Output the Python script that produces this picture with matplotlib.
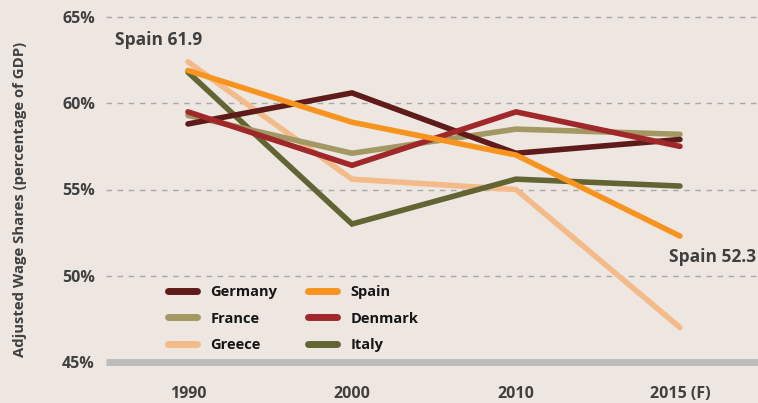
import matplotlib
matplotlib.use("Agg")
import matplotlib.pyplot as plt
from matplotlib.lines import Line2D

years = ["1990", "2000", "2010", "2015 (F)"]
germany = [58.8, 60.6, 57.1, 57.9]
spain = [61.9, 58.9, 57.0, 52.3]
france = [59.3, 57.1, 58.5, 58.2]
denmark = [59.5, 56.4, 59.5, 57.5]
greece = [62.4, 55.6, 55.0, 47.0]
italy = [61.8, 53.0, 55.6, 55.2]
yticks = [45, 50, 55, 60, 65]
ytick_labels = ["45%", "50%", "55%", "60%", "65%"]

series = [
    ("Germany", germany, "#5e1b19"),
    ("France", france, "#a39763"),
    ("Greece", greece, "#f4bb8a"),
    ("Spain", spain, "#f7941f"),
    ("Denmark", denmark, "#a1282a"),
    ("Italy", italy, "#626434"),
]
draw_order = ["Greece", "Italy", "France", "Germany", "Denmark", "Spain"]

bg = "#eee6e0"
plt.rcParams['font.family'] = ['Open Sans', 'DejaVu Sans']
fig = plt.figure(figsize=(7.58, 4.03), dpi=100, facecolor=bg)
ax = fig.add_axes([106/758, 41/403, 1 - 106/758, 362/403])
ax.set_facecolor(bg)

x = list(range(len(years)))
lookup = {n: (v, c) for n, v, c in series}
for i, name in enumerate(draw_order):
    v, c = lookup[name]
    ax.plot(x, v, color=c, lw=4, solid_capstyle='round', solid_joinstyle='miter', zorder=3 + i)

ax.set_xlim(-0.5, 3.476)
ax.set_ylim(45, 65 + 17/17.25)
for t in yticks[1:]:
    ax.axhline(t, color="#a8a8a8", lw=1, ls=(0, (4, 4)), zorder=1)
ax.axhline(45, color="#bcbcbc", lw=5, zorder=2, clip_on=False, solid_capstyle='butt')

for s in ax.spines.values():
    s.set_visible(False)
ax.set_yticks(yticks)
ax.set_yticklabels(ytick_labels)
ax.set_xticks(x)
ax.set_xticklabels(years)
ax.tick_params(length=0)
ax.tick_params(axis='y', pad=8, labelsize=11.5, labelcolor="#404040")
ax.tick_params(axis='x', pad=17, labelsize=11.5, labelcolor="#404040")
for lab in ax.get_xticklabels() + ax.get_yticklabels():
    lab.set_fontweight('bold')

fig.text(20/758, 1 - 199/403, "Adjusted Wage Shares (percentage of GDP)", rotation=90,
         ha='center', va='center', fontsize=10.7, fontweight='bold', color="#404040")

ax.annotate("Spain 61.9", xy=(0, spain[0]), xytext=(115/758, 1 - 40/403), textcoords='figure fraction',
            ha='left', va='center', fontsize=12.5, fontweight='bold', color="#404040")
ax.annotate("Spain 52.3", xy=(3, spain[3]), xytext=(756/758, 1 - 257/403), textcoords='figure fraction',
            ha='right', va='center', fontsize=12.5, fontweight='bold', color="#404040")

handles = [Line2D([0], [0], color=c, lw=5, solid_capstyle='round') for _, _, c in series]
labels = [n for n, _, _ in series]
leg = fig.legend(handles, labels, ncol=2, loc='upper left',
                 bbox_to_anchor=(155/758, 1 - 272/403), frameon=False,
                 handlelength=2.0, handletextpad=0.9, columnspacing=2.1,
                 labelspacing=0.85, prop={'weight': 'bold', 'size': 10.5})
for t in leg.get_texts():
    t.set_color("#151515")

fig.savefig("out.png", dpi=100, facecolor=bg)
